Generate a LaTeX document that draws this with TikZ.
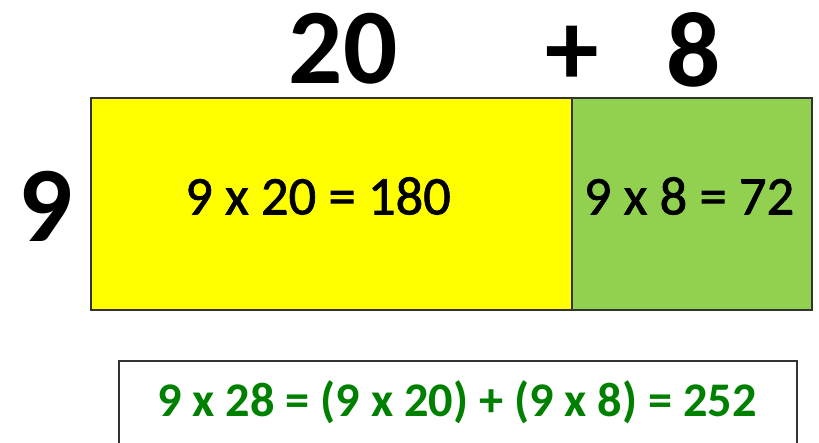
\documentclass[tikz,border=0pt]{standalone}
\usepackage{fontspec}
\setmainfont{Carlito}
\newfontface\partface{Carlito}[FakeBold=1.4]
\usepackage{xcolor}
\definecolor{boxyellow}{HTML}{FFFF00}
\definecolor{boxgreen}{HTML}{92D050}
\definecolor{sumgreen}{HTML}{008000}
\begin{document}
\begin{tikzpicture}[x=0.02cm,y=-0.02cm,
    part/.style={draw=black!80, line width=1pt, inner sep=0pt, anchor=north west},
    biglabel/.style={font=\fontsize{61}{61}\selectfont\bfseries},
    parttext/.style={font=\fontsize{31}{31}\selectfont\partface}]
  \useasboundingbox (0,0) rectangle (819,443);
  % Area model - 20 part
  \node[part, fill=boxyellow, minimum width=481*0.02cm, minimum height=212*0.02cm] (tens) at (90,97) {};
  \node[parttext] (tenstext) at (318,196) {9 x 20 = 180};
  % Area model - 8 part
  \node[part, fill=boxgreen, minimum width=240*0.02cm, minimum height=212*0.02cm] (ones) at (571,97) {};
  \node[parttext] (onestext) at (689,196) {9 x 8 = 72};
  % Factors
  \node[biglabel] (twenty) at (343,49) {20};
  \node[biglabel] (plus) at (572,56) {+};
  \node[biglabel] (eight) at (694,50) {8};
  \node[biglabel] (nine) at (46,206) {9};
  % Result
  \draw[black!80, line width=1pt] (119,460) -- (119,361) -- (797,361) -- (797,460);
  \node[font=\fontsize{27.5}{27.5}\selectfont\bfseries, text=sumgreen] (result) at (457,402) {9 x 28 = (9 x 20) + (9 x 8) = 252};
\end{tikzpicture}
\end{document}
